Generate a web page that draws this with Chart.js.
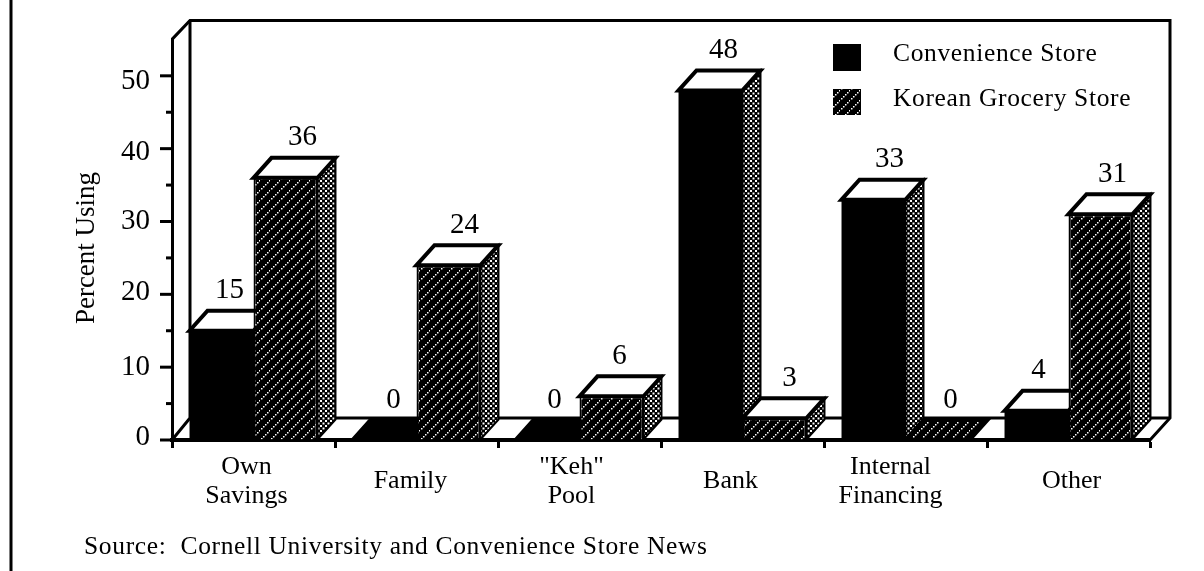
<!DOCTYPE html>
<html>
<head>
<meta charset="utf-8">
<style>
  html, body { margin: 0; padding: 0; background: #fff; }
  canvas { display: block; }
</style>
<script src="https://cdn.jsdelivr.net/npm/chart.js@4"></script>
</head>
<body>
<canvas id="storeChart" width="1204" height="571"></canvas>
<script>
// Les valeurs
const categories = [['Own', 'Savings'], 'Family', ['"Keh"', 'Pool'], 'Bank', ['Internal', 'Financing'], 'Other'];
const convenienceValues = [15, 0, 0, 48, 33, 4];
const koreanValues = [36, 24, 6, 3, 0, 31];
const seriesNames = ['Convenience Store', 'Korean Grocery Store'];
const yAxisTitle = 'Percent Using';
const sourceNote = 'Source:  Cornell University and Convenience Store News';

// Petits decalages de texte, comme sur l'original
const convenienceNudge = [8, 9, 7, 13, 16, 2];
const koreanNudge = [17, 16, 8, 15, 13, 12];
const categoryNudge = [-7, -6, -8, -12, -15, 3];
const yLabelNudge = { 50: 6, 40: 4, 30: 0, 20: -2, 10: 0, 0: -3 };

const SERIF = '"Liberation Serif", serif';
const DX = 18;   // profondeur 3D
const DY = 20;

// Motif hachure (face avant) : lignes diagonales pointillees blanches sur noir
function hatchPattern() {
    const c = document.createElement('canvas');
    c.width = 10; c.height = 10;
    const g = c.getContext('2d');
    g.fillStyle = '#000';
    g.fillRect(0, 0, 10, 10);
    g.fillStyle = '#fff';
    for (let i = 0; i < 10; i += 2) g.fillRect(9 - i, i, 1.5, 1.5);
    return g.createPattern(c, 'repeat');
}

// Motif points (face laterale)
function dotPattern() {
    const c = document.createElement('canvas');
    c.width = 5; c.height = 5;
    const g = c.getContext('2d');
    g.fillStyle = '#000';
    g.fillRect(0, 0, 5, 5);
    g.fillStyle = '#fff';
    g.fillRect(0, 0, 2, 2);
    g.fillRect(2.5, 2.5, 2, 2);
    return g.createPattern(c, 'repeat');
}

const hatch = hatchPattern();
const dots = dotPattern();

function poly(ctx, pts, fill, lineWidth) {
    ctx.beginPath();
    pts.forEach((p, i) => i ? ctx.lineTo(p[0], p[1]) : ctx.moveTo(p[0], p[1]));
    ctx.closePath();
    ctx.fillStyle = fill;
    ctx.fill();
    ctx.lineWidth = lineWidth;
    ctx.strokeStyle = '#000';
    ctx.lineJoin = 'miter';
    ctx.stroke();
}

const box3d = {
    id: 'box3d',
    beforeDraw(chart) {
        const ctx = chart.ctx;
        const a = chart.chartArea;
        const x = chart.scales.x;
        const y = chart.scales.y;

        // Deplacer les libelles des axes
        const xItems = x.getLabelItems();
        if (!xItems.moved) {
            xItems.forEach((it, i) => { it.options.translation[0] += categoryNudge[i]; });
            xItems.moved = true;
        }
        const yItems = y.getLabelItems();
        if (!yItems.moved) {
            yItems.forEach(it => {
                const v = Number(it.label);
                if (it.label !== '' && yLabelNudge[v] !== undefined) it.options.translation[1] += yLabelNudge[v];
            });
            yItems.moved = true;
        }

        // Cadre du fond et sol
        ctx.save();
        ctx.strokeStyle = '#000';
        ctx.lineWidth = 3;
        ctx.beginPath();
        ctx.moveTo(a.left, a.top);
        ctx.lineTo(a.left + DX, a.top - DY + 1);
        ctx.lineTo(a.right + DX + 2, a.top - DY + 1);
        ctx.lineTo(a.right + DX + 2, a.bottom - DY - 2);
        ctx.lineTo(a.right, a.bottom);
        ctx.stroke();
        ctx.beginPath();
        ctx.moveTo(a.left + DX, a.top - DY + 1);
        ctx.lineTo(a.left + DX, a.bottom - DY - 2);
        ctx.lineTo(a.right + DX + 2, a.bottom - DY - 2);
        ctx.moveTo(a.left, a.bottom);
        ctx.lineTo(a.left + DX, a.bottom - DY - 2);
        ctx.stroke();

        // Filet vertical a gauche de la page
        ctx.lineWidth = 3;
        ctx.beginPath();
        ctx.moveTo(11, 0);
        ctx.lineTo(11, 571);
        ctx.stroke();

        // Graduations de l'axe Y
        y.ticks.forEach(t => {
            if (t.value >= 55) return;
            const py = y.getPixelForValue(t.value);
            ctx.lineWidth = 3;
            ctx.beginPath();
            ctx.moveTo(a.left - (t.value % 10 === 0 ? 12 : 6), py);
            ctx.lineTo(a.left, py);
            ctx.stroke();
        });
        ctx.restore();
    },
    // Faces laterale et superieure : d'abord la premiere serie, puis la seconde
    beforeDatasetsDraw(chart) {
        const ctx = chart.ctx;
        ctx.save();
        chart.data.datasets.forEach((ds, d) => {
            chart.getDatasetMeta(d).data.forEach(bar => {
                const p = bar.getProps(['x', 'y', 'base', 'width'], true);
                const l = p.x - p.width / 2;
                const r = p.x + p.width / 2;
                const isZero = Math.abs(p.base - p.y) < 1;
                if (!isZero) {
                    poly(ctx, [[r, p.y], [r + DX, p.y - DY], [r + DX, p.base - DY], [r, p.base]], dots, 2);
                }
                poly(ctx, [[l, p.y], [l + DX, p.y - DY], [r + DX, p.y - DY], [r, p.y]], isZero ? ds.backgroundColor : '#fff', 4);
            });
        });
        ctx.restore();
    },
    afterDraw(chart) {
        const ctx = chart.ctx;
        ctx.save();
        ctx.fillStyle = '#000';

        // Valeurs au-dessus des barres
        ctx.font = '29px ' + SERIF;
        ctx.textAlign = 'center';
        ctx.textBaseline = 'middle';
        chart.data.datasets.forEach((ds, d) => {
            const nudge = d === 0 ? convenienceNudge : koreanNudge;
            chart.getDatasetMeta(d).data.forEach((bar, i) => {
                const p = bar.getProps(['x', 'y'], true);
                ctx.fillText(String(ds.data[i]), p.x + nudge[i], p.y - DY - 20);
            });
        });

        // Titre de l'axe Y
        ctx.save();
        ctx.translate(87, 248);
        ctx.rotate(-Math.PI / 2);
        ctx.font = '27px ' + SERIF;
        ctx.fillText(yAxisTitle, 0, 0);
        ctx.restore();

        // Legende
        ctx.textAlign = 'left';
        ctx.font = '25.5px ' + SERIF;
        ctx.letterSpacing = '0.65px';
        ctx.fillRect(833, 44, 28, 27);
        ctx.fillStyle = hatch;
        ctx.fillRect(833, 89, 28, 26);
        ctx.fillStyle = '#000';
        ctx.fillText(seriesNames[0], 893, 54);
        ctx.fillText(seriesNames[1], 893, 99);

        // Source
        ctx.fillText(sourceNote, 84, 547);
        ctx.restore();
    }
};

new Chart(document.getElementById('storeChart').getContext('2d'), {
    type: 'bar',
    data: {
        labels: categories,
        datasets: [
            { label: seriesNames[0], data: convenienceValues, backgroundColor: '#000', borderColor: '#000', borderWidth: 0 },
            { label: seriesNames[1], data: koreanValues, backgroundColor: hatch, borderColor: '#000', borderWidth: 2 }
        ]
    },
    options: {
        responsive: false,
        animation: false,
        layout: { padding: { top: 35, right: 54, left: 0, bottom: 0 } },
        datasets: { bar: { categoryPercentage: 0.785, barPercentage: 1 } },
        plugins: { legend: { display: false }, tooltip: { enabled: false } },
        scales: {
            x: {
                afterFit: s => { s.height = 131; },
                border: { color: '#000', width: 4 },
                grid: { drawOnChartArea: false, color: '#000', tickColor: '#000', tickLength: 8, tickWidth: 3, offset: true },
                ticks: {
                    color: '#000', padding: 19, maxRotation: 0, autoSkip: false, crossAlign: 'center',
                    font: { family: SERIF, size: 26, lineHeight: 1.12 }
                }
            },
            y: {
                min: 0,
                max: 55,
                afterFit: s => { s.width = 172; },
                border: { color: '#000', width: 3 },
                grid: { display: true, drawOnChartArea: false, drawTicks: false },
                ticks: {
                    stepSize: 5,
                    autoSkip: false,
                    color: '#000',
                    padding: 22,
                    font: { family: SERIF, size: 29 },
                    callback: v => (v % 10 === 0 ? String(v) : '')
                }
            }
        }
    },
    plugins: [box3d]
});
</script>
</body>
</html>
